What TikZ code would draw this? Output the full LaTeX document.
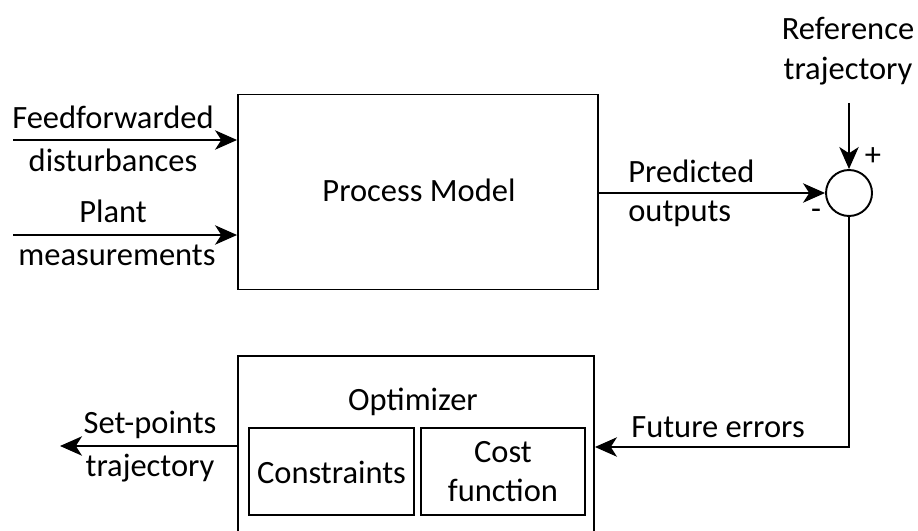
\documentclass[tikz,border=0pt]{standalone}
\usepackage{fontspec}
\setmainfont{Carlito}
\usepackage{tikz}
\usetikzlibrary{
	positioning,
	arrows.meta
}

\tikzset{
	block/.style={draw,line width=1.1pt,inner sep=0pt},
	txt/.style={inner sep=0pt,font=\fontsize{18.5}{22}\selectfont},
	sig/.style={line width=1.1pt,-{Stealth[length=12.5pt,width=11pt,inset=3.5pt]}},
	wire/.style={line width=1.1pt}
}

\begin{document}
\begin{tikzpicture}[x=0.02cm,y=-0.02cm]
		\useasboundingbox (0,0) rectangle (918,530);

		% blocks
		\node[block,minimum width=7.2cm,minimum height=3.9cm] (model) at (418,192) {};
		\node[txt] (modellbl) at (419,190) {Process Model};
		\node[block,circle,minimum size=0.92cm] (sum) at (849,193) {};
		\node[block,minimum width=7.12cm,minimum height=3.6cm] (opt) at (416,446) {};
		\node[txt] (optlbl) at (413,402) {Optimizer};
		\node[block,minimum width=3.3cm,minimum height=1.74cm] (cons) at (331.5,471.5) {};
		\node[txt] (conslbl) at (331.5,472) {Constraints};
		\node[block,minimum width=3.28cm,minimum height=1.74cm,align=center,txt] (cost) at (503,471.5) {Cost\\function};

		% labels
		\node[txt] (ffa) at (113,117) {Feedforwarded};
		\node[txt] (ffb) at (113,160) {disturbances};
		\node[txt] (pma) at (113,211) {Plant};
		\node[txt] (pmb) at (117,255) {measurements};
		\node[txt] (refa) at (848,28) {Reference};
		\node[txt] (refb) at (848,71) {trajectory};
		\node[txt,anchor=west] (preda) at (628,171) {Predicted};
		\node[txt,anchor=west] (predb) at (628,214) {outputs};
		\node[txt] (plus) at (873,157) {+};
		\node[txt] (minus) at (816,214) {-};
		\node[txt] (err) at (718,427) {Future errors};
		\node[txt] (spa) at (150,425) {Set-points};
		\node[txt] (spb) at (150,468) {trajectory};

		% signals
		\coordinate (ffin) at (13,140);
		\coordinate (pmin) at (13,235);
		\coordinate (reftop) at (849,103);
		\coordinate (corner) at (849,447);
		\coordinate (spout) at (60,446);

		\draw[sig] (ffin) -- (ffin -| model.west);
		\draw[sig] (pmin) -- (pmin -| model.west);
		\draw[sig] (reftop) -- (sum.north);
		\draw[sig] (model.east |- sum.west) -- (sum.west);
		\draw[sig] (sum.south) -- (corner) -- (corner -| opt.east);
		\draw[sig] (spout -| opt.west) -- (spout);
	\end{tikzpicture}
\end{document}
